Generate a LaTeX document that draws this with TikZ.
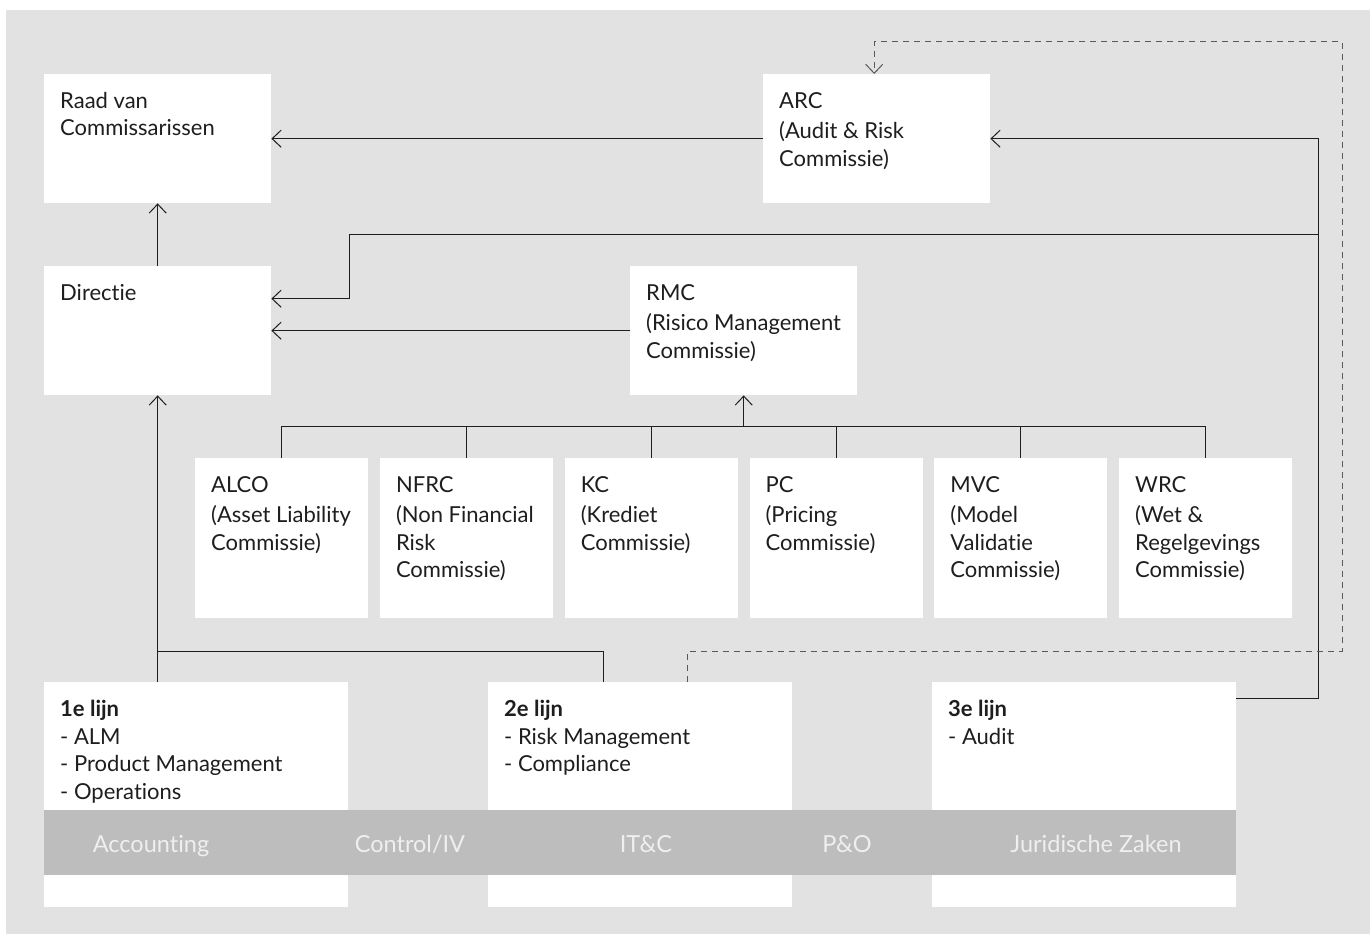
\documentclass[tikz,border=0pt]{standalone}
\usepackage{fontspec}
\setmainfont{Lato}[Ligatures={NoCommon, NoRequired, NoContextual}]
\usetikzlibrary{arrows.meta}

\definecolor{bg}{HTML}{E2E2E2}
\definecolor{band}{HTML}{BDBDBD}
\definecolor{bandtext}{HTML}{EFEFEF}
\definecolor{ink}{HTML}{1E1E1E}

\tikzset{
	box/.style={fill=white, inner sep=0, anchor=north west, minimum width=227pt, minimum height=129pt},
	cbox/.style={box, minimum width=173pt, minimum height=160pt},
	lbox/.style={box, minimum width=304pt, minimum height=225pt},
	txt/.style={anchor=north west, inner sep=0, xshift=16pt, yshift=-18pt, align=left,
		font=\fontsize{22}{27.5}\selectfont, text=ink},
	bandtxt/.style={anchor=base, inner sep=0, font=\fontsize{23.5}{28}\selectfont, text=bandtext},
	ln/.style={draw=ink, line width=1pt},
	arr/.style={ln, -{Straight Barb[length=9pt, width=17pt]}},
	dsh/.style={draw=black!65, line width=1pt, dash pattern=on 6pt off 5pt,
		-{Straight Barb[length=9pt, width=17pt]}},
}

\begin{document}
\begin{tikzpicture}[x=1pt, y=-1pt]
	\useasboundingbox (0,0) rectangle (1370,934);
	\fill[bg] (6,10) rectangle (1370,934);

	% top rows
	\node[box, label={[txt]north west:{Raad van\\Commissarissen}}] (raad) at (44,74) {};
	\node[box, label={[txt]north west:{ARC\\[3pt](Audit \& Risk\\Commissie)}}] (arc) at (763,74) {};
	\node[box, label={[txt]north west:{Directie}}] (dir) at (44,266) {};
	\node[box, label={[txt]north west:{RMC\\[3pt](Risico Management\\Commissie)}}] (rmc) at (630,266) {};

	% commissies
	\foreach \nm/\ttl [count=\i from 0] in {
		alco/{ALCO\\[3pt](Asset Liability\\Commissie)},
		nfrc/{NFRC\\[3pt](Non Financial\\Risk\\Commissie)},
		kc/{KC\\[3pt](Krediet\\Commissie)},
		pc/{PC\\[3pt](Pricing\\Commissie)},
		mvc/{MVC\\[3pt](Model\\Validatie\\Commissie)},
		wrc/{WRC\\[3pt](Wet \&\\Regelgevings\\Commissie)}}
		\node[cbox, label={[txt]north west:{\ttl}}] (\nm) at (195+184.8*\i,458) {};

	% lijnen
	\node[lbox, label={[txt]north west:{\textbf{1e lijn}\\- ALM\\- Product Management\\- Operations}}] (e1) at (44,682) {};
	\node[lbox, label={[txt]north west:{\textbf{2e lijn}\\- Risk Management\\- Compliance}}] (e2) at (488,682) {};
	\node[lbox, label={[txt]north west:{\textbf{3e lijn}\\- Audit}}] (e3) at (932,682) {};

	\node[fill=band, inner sep=0, anchor=north west, minimum width=1192pt, minimum height=65pt] (band) at (44,810) {};
	\node[bandtxt] (acc) at (151,852) {Accounting};
	\node[bandtxt] (ctrl) at (410,852) {Control/IV};
	\node[bandtxt] (itc) at (646,852) {IT\&C};
	\node[bandtxt] (po) at (847,852) {P\&O};
	\node[bandtxt] (jur) at (1096,852) {Juridische Zaken};

	\coordinate (bus) at (0,426);
	\coordinate (split) at (0,651);
	\coordinate (rail) at (1318,234);
	\coordinate (dtop) at (1342,42);

	\draw[arr] (arc.west) -- (raad.east);
	\draw[arr] (dir.north) -- (raad.south);
	\draw[arr] (rmc.west) -- (dir.east);
	\draw[arr] (rail) -| ([xshift=78pt, yshift=32pt]dir.east) -- ([yshift=32pt]dir.east);

	\draw[ln] (alco.north) |- (wrc.north |- bus) -- (wrc.north);
	\foreach \nm in {nfrc, kc, pc, mvc}
		\draw[ln] (\nm.north) -- (\nm.north |- bus);
	\draw[arr] (rmc.south |- bus) -- (rmc.south);

	\draw[arr] (dir.south |- e1.north) -- (dir.south);
	\draw[ln] (dir.south |- split) -| ([xshift=-36.5pt]e2.north);
	\draw[arr] ([yshift=-16pt]e3.north east) -| (rail) |- (arc.east);
	\draw[dsh] ([xshift=47.5pt]e2.north) -- ([xshift=47.5pt]e2.north |- split) -| (dtop) -| ([xshift=-2.5pt]arc.north);
\end{tikzpicture}
\end{document}
